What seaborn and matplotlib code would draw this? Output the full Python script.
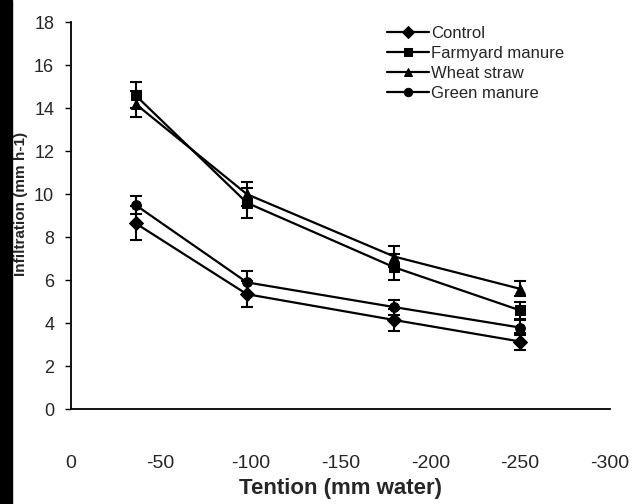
import pandas as pd
import seaborn as sns
import matplotlib.pyplot as plt
from matplotlib.patches import Rectangle

# --- data ---
tension = [-36, -98, -180, -250]
treatments = ["Control", "Farmyard manure", "Wheat straw", "Green manure"]
control = [8.65, 5.35, 4.15, 3.15]
farmyard = [14.6, 9.6, 6.6, 4.6]
wheat = [14.2, 10.0, 7.1, 5.6]
green = [9.5, 5.9, 4.75, 3.8]
control_err = [0.8, 0.6, 0.5, 0.4]
farmyard_err = [0.6, 0.7, 0.6, 0.4]
wheat_err = [0.6, 0.55, 0.5, 0.35]
green_err = [0.4, 0.55, 0.35, 0.35]
markers = {"Control": "D", "Farmyard manure": "s", "Wheat straw": "^", "Green manure": "o"}

values = [control, farmyard, wheat, green]
errors = [control_err, farmyard_err, wheat_err, green_err]
rows = []
for name, vals, errs in zip(treatments, values, errors):
    for t, v, e in zip(tension, vals, errs):
        rows.append({"Tension": t, "Infiltration": v, "err": e, "Treatment": name})
df = pd.DataFrame(rows)

sns.set_theme(style="white")
plt.rcParams['font.family'] = ['Liberation Sans', 'DejaVu Sans']
plt.rcParams['axes.unicode_minus'] = False

fig = plt.figure(figsize=(6.38, 5.04), dpi=100)
ax = fig.add_axes([0.111, 0.188, 0.845, 0.768])

sns.lineplot(data=df, x="Tension", y="Infiltration", hue="Treatment", style="Treatment",
             markers=markers, dashes=False, palette=["black"] * 4, hue_order=treatments,
             style_order=treatments, linewidth=1.6, markersize=7, markeredgecolor="black",
             ax=ax, errorbar=None)

for name in treatments:
    sub = df[df["Treatment"] == name]
    ax.errorbar(sub["Tension"], sub["Infiltration"], yerr=sub["err"], fmt="none",
                ecolor="black", elinewidth=1.5, capsize=4, capthick=1.5)

ax.set_xlim(0, -300)
ax.set_ylim(0, 18)
ax.set_xticks([0, -50, -100, -150, -200, -250, -300])
ax.set_yticks(range(0, 19, 2))
ax.tick_params(axis="x", length=0, pad=33, labelsize=14)
ax.tick_params(axis="y", length=4, width=1, pad=8, labelsize=13, left=True, color="black")

for s in ["top", "right"]:
    ax.spines[s].set_visible(False)
for s in ["left", "bottom"]:
    ax.spines[s].set_color("black")
    ax.spines[s].set_linewidth(1.3)

ax.set_xlabel("Tention (mm water)", fontsize=16, fontweight="bold", labelpad=4)
ax.set_ylabel("Infiltration (mm h-1)", fontsize=11, fontweight="bold")
ax.yaxis.set_label_coords(-0.08, 0.53)

leg = ax.legend(loc="upper left", bbox_to_anchor=(0.587, 0.99), frameon=False, fontsize=12,
                handlelength=2.5, handletextpad=0.15, labelspacing=0.3, borderaxespad=0,
                borderpad=0)
for h in leg.legend_handles:
    h.set_markersize(6)

# dark scan edge on the left
fig.patches.append(Rectangle((0, 0), 0.019, 1, transform=fig.transFigure, color="black", zorder=-1))

fig.savefig("out.png", dpi=100)
